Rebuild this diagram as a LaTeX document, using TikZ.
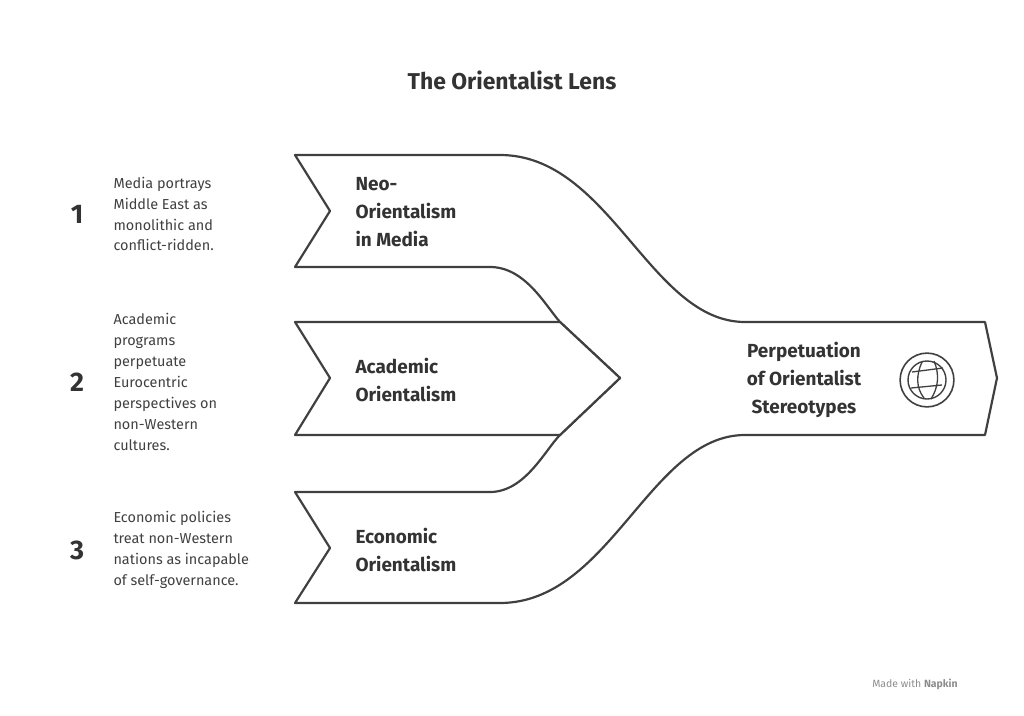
\documentclass[tikz,border=0pt]{standalone}
\usepackage{fontspec}
\setmainfont{Fira Sans}
\begin{document}
\begin{tikzpicture}[x=1bp,y=-1bp,line join=round,
  band/.style={draw=black!75,line width=2.2pt,fill=white},
  lbl/.style={font=\bfseries\fontsize{19}{28}\selectfont,text=black!80,align=left,anchor=west},
  desc/.style={font=\fontsize{14.5}{21}\selectfont,text=black!75,align=left,anchor=west},
  num/.style={font=\bfseries\fontsize{27}{30}\selectfont,text=black!80}]
\useasboundingbox (0,0) rectangle (1024,716);
%%
\node (title) at (512,80) [font=\bfseries\fontsize{23}{26}\selectfont,text=black!80] {The Orientalist Lens};
% bands
\draw [band] (295,155) -- (500,155) .. controls (610,155) and (650,322) .. (745,322) -- (985,322)
  -- (997,378) -- (985,435) -- (745,435) .. controls (650,435) and (610,603) .. (500,603)
  -- (295,603) -- (330,548) -- (295,492) -- (490,492) .. controls (525,492) and (545,450) .. (560,435)
  -- (620,378) -- (560,322) .. controls (545,305) and (525,267) .. (490,267) -- (295,267) -- (330,211) -- cycle;
\draw [band] (295,322) -- (560,322) -- (620,378) -- (560,435) -- (295,435) -- (330,378) -- cycle;
%
\node (n1) at (352,212) [lbl] {Neo-\\Orientalism\\in Media};
\node (n2) at (352,380) [lbl] {Academic\\Orientalism};
\node (n3) at (352,550) [lbl] {Economic\\Orientalism};
\node (out) at (804,380) [lbl,anchor=center,align=center] {Perpetuation\\of Orientalist\\Stereotypes};
% globe
\node (globe) at (927,380) [draw=black!75,line width=1.6pt,circle,minimum size=54pt] {};
\draw [black!75,line width=1.4pt] (globe.center) circle (19bp);
\draw [black!75,line width=1.3pt] (912,372) -- (943,368) (911,388) -- (942,385)
  (922,362) .. controls (916,375) and (916,388) .. (924,398)
  (934,361) .. controls (940,375) and (938,388) .. (931,399);
%
\node (k1) at (77,214) [num] {1};
\node (k2) at (77,382) [num] {2};
\node (k3) at (77,550) [num] {3};
\node (d1) at (110,214) [desc] {Media portrays\\Middle East as\\monolithic and\\conflict-ridden.};
\node (d2) at (110,382) [desc] {Academic\\programs\\perpetuate\\Eurocentric\\perspectives on\\non-Western\\cultures.};
\node (d3) at (110,550) [desc] {Economic policies\\treat non-Western\\nations as incapable\\of self-governance.};
\node (napkin) at (915,684) [font=\fontsize{10.5}{12}\selectfont,text=black!45] {Made with \textbf{Napkin}};
%
\end{tikzpicture}
\end{document}
